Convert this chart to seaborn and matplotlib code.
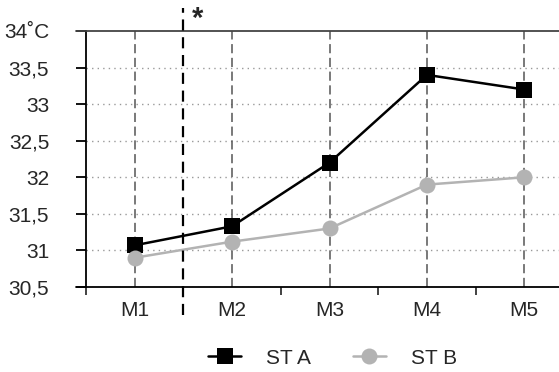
import matplotlib
matplotlib.use("Agg")
import matplotlib.pyplot as plt
import seaborn as sns
import pandas as pd
from matplotlib.lines import Line2D

categories = ["M1", "M2", "M3", "M4", "M5"]
st_a = [31.07, 31.33, 32.2, 33.4, 33.2]
st_b = [30.9, 31.12, 31.3, 31.9, 32.0]
series_names = ["ST A", "ST B"]
ytick_vals = [30.5, 31, 31.5, 32, 32.5, 33, 33.5, 34]
ytick_labels = ["30,5", "31", "31,5", "32", "32,5", "33", "33,5", "34˚C"]

df = pd.DataFrame({
    "cat": categories * 2,
    "val": st_a + st_b,
    "series": [series_names[0]] * len(categories) + [series_names[1]] * len(categories),
})

sns.set_style("white")
fam = ["Liberation Sans", "DejaVu Sans"]
plt.rcParams["font.family"] = fam
FS = 15

fig = plt.figure(figsize=(5.59, 3.72), dpi=100)
ax = fig.add_axes([86 / 559, (372 - 287) / 372, 487 / 559, 256 / 372])

colors = {"ST A": "black", "ST B": "#b3b3b3"}
markers = {"ST A": "s", "ST B": "o"}
for name in series_names:
    sub = df[df["series"] == name]
    sns.lineplot(data=sub, x="cat", y="val", color=colors[name], marker=markers[name],
                 markersize=11 if name == "ST A" else 11.5, markeredgewidth=0,
                 linewidth=1.8, ax=ax, zorder=5, sort=False)

ax.set_xlim(-0.5, 4.5)
ax.set_ylim(30.5, 34)
ax.set_xlabel("")
ax.set_ylabel("")

# grids
for y in ytick_vals[:-1]:
    ax.axhline(y, color="#999999", linestyle=(0, (1, 3)), linewidth=1, zorder=1)
for i in range(len(categories)):
    ax.axvline(i, color="#555555", linestyle=(0, (6, 3)), linewidth=1.1, zorder=1)

# thick black dashed separator
ax.plot([0.5, 0.5], [30.12, 34.31], color="black", linestyle=(0, (5, 3)), linewidth=1.6,
        clip_on=False, zorder=6)
ax.text(0.65, 34.17, "*", fontsize=21, fontweight="bold", ha="center", va="center", clip_on=False)

# spines
ax.spines["right"].set_visible(False)
ax.spines["left"].set_color("black")
ax.spines["bottom"].set_color("black")
ax.spines["top"].set_color("#444444")
for s in ["left", "bottom", "top"]:
    ax.spines[s].set_linewidth(1.3)
ax.plot([-0.6, -0.5], [34, 34], color="#444444", lw=1.3, clip_on=False)
ax.plot([-0.6, -0.5], [30.5, 30.5], color="black", lw=1.3, clip_on=False)

ax.set_yticks(ytick_vals)
ax.set_yticklabels(ytick_labels, fontsize=FS)
ax.tick_params(axis="y", direction="out", length=7.5, width=1.3, color="black", pad=19, left=True)

ax.set_xticks(range(len(categories)))
ax.set_xticklabels(categories, fontsize=FS)
ax.tick_params(axis="x", which="major", length=0, pad=10)
ax.set_xticks([-0.5, 0.5, 1.5, 2.5, 3.5], minor=True)
ax.tick_params(axis="x", which="minor", direction="out", length=6, width=1.3, color="#333333", bottom=True)

handles = [
    Line2D([], [], color="black", marker="s", markersize=11, markeredgewidth=0, linewidth=1.8),
    Line2D([], [], color="#b3b3b3", marker="o", markersize=11.5, markeredgewidth=0, linewidth=1.8),
]
fig.legend(handles, series_names, loc="center", bbox_to_anchor=(0.595, 0.037), ncol=2,
           frameon=False, fontsize=FS, handlelength=1.6, columnspacing=2.0, handletextpad=1.2)

fig.savefig("out.png", dpi=100)
